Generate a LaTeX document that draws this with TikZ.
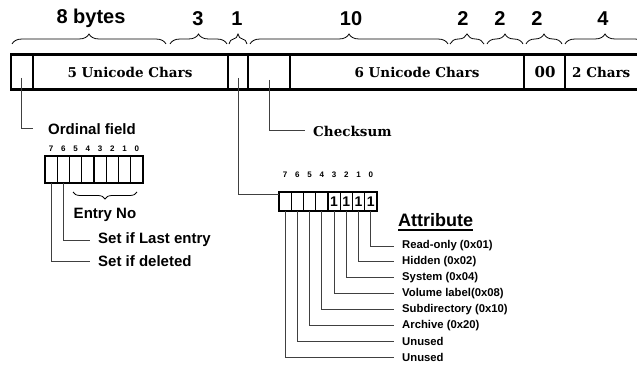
\documentclass[tikz,border=0pt]{standalone}
\usepackage{fontspec}
\setsansfont{Liberation Sans}
\newfontfamily\serifbf{DejaVu Serif}[UprightFont=* Bold]
\usetikzlibrary{decorations.pathreplacing,calc}
\begin{document}
\begin{tikzpicture}[x=1pt,y=-1pt,
  field/.style={draw, line width=2.2pt, minimum height=35pt, inner sep=0pt, outer sep=0pt, anchor=north west},
  serifbold/.style={font=\serifbf\fontsize{13.5}{16}\selectfont, inner sep=0pt},
  toplab/.style={font=\sffamily\bfseries\fontsize{20}{24}\selectfont, inner sep=0pt},
  brc/.style={decorate, decoration={brace, amplitude=10pt}, line width=0.8pt},
  brcdown/.style={decorate, decoration={brace, amplitude=7pt}, line width=0.8pt},
  conn/.style={draw=black!75, line width=1pt},
  lab/.style={font=\sffamily\bfseries\fontsize{15}{18}\selectfont, anchor=west, inner ysep=0pt, inner xsep=8pt},
  small/.style={font=\sffamily\bfseries\fontsize{11.3}{13}\selectfont, anchor=west, inner ysep=0pt, inner xsep=8pt},
  bitnum/.style={font=\sffamily\bfseries\fontsize{8}{9}\selectfont, inner sep=0pt},
  acell/.style={draw, line width=1.4pt, minimum width=12.25pt, minimum height=19pt, inner sep=0pt, outer sep=0pt, anchor=north west, font=\sffamily\bfseries\fontsize{14}{16}\selectfont},
  ocell/.style={draw, line width=1.4pt, minimum width=12.25pt, minimum height=27pt, inner sep=0pt, outer sep=0pt, anchor=north west}
]
\useasboundingbox (0,0) rectangle (637,366);

% main record fields
\node[field, minimum width=21.7pt] (f1) at (11,54.5) {};
\node[field, minimum width=195.3pt] (f2) at (32.7,54.5) {};
\node[field, minimum width=20pt] (f3) at (228,54.5) {};
\node[field, minimum width=42pt] (f4) at (248,54.5) {};
\node[field, minimum width=234pt] (f5) at (290,54.5) {};
\node[field, minimum width=41pt] (f6) at (524,54.5) {};
\node[field, minimum width=80pt] (f7) at (565,54.5) {};

\node[serifbold] (t2) at (130,72) {5 Unicode Chars};
\node[serifbold] (t5) at (417,72) {6 Unicode Chars};
\node[serifbold, font=\serifbf\fontsize{15}{18}\selectfont] (t6) at (545,72) {00};
\node[serifbold, anchor=west] (t7) at (572,72) {2 Chars};

% braces and byte counts
\draw[brc] (12,44) -- (166,44);
\draw[brc] (170,44) -- (227,44);
\draw[brc] (229,44) -- (247,44);
\draw[brc] (250,44) -- (448,44);
\draw[brc] (450,44) -- (484,44);
\draw[brc] (487,44) -- (523,44);
\draw[brc] (526,44) -- (562,44);
\draw[brc] (565,44) -- (645,44);

\node[toplab] (b1) at (91,18.5) {8 bytes};
\node[toplab] (b2) at (198,18.5) {3};
\node[toplab] (b3) at (237,18.5) {1};
\node[toplab] (b4) at (351,18.5) {10};
\node[toplab] (b5) at (463,18.5) {2};
\node[toplab] (b6) at (500,18.5) {2};
\node[toplab] (b7) at (537,18.5) {2};
\node[toplab] (b8) at (603,18.5) {4};

% ordinal field
\node[lab, inner xsep=15pt] (ordlabel) at (33,129) {Ordinal field};
\draw[conn] ($(f1.center)+(0,6)$) |- (ordlabel.west);
\foreach \i in {0,...,7} {
  \node[ocell] (o\i) at ({45+12.25*(7-\i)},156) {};
  \node[bitnum] at ([yshift=7pt]o\i.north) {\i};
}
\draw[brcdown] (137,192) -- (73,192);
\node[lab, anchor=center, inner xsep=0pt] (entry) at (105,215) {Entry No};
\node[lab] (lastentry) at (90,240) {Set if Last entry};
\node[lab] (deleted) at (90,261) {Set if deleted};
\draw[conn] (o6.south) |- (lastentry.west);
\draw[conn] (o7.south) |- (deleted.west);

% checksum
\node[lab, font=\serifbf\fontsize{13.5}{16}\selectfont] (checksum) at (305,131) {Checksum};
\draw[conn] ($(f4.center)+(0,8)$) |- (checksum.west);

% attribute byte
\foreach \i/\v in {7/,6/,5/,4/,3/1,2/1,1/1,0/1} {
  \node[acell] (a\i) at ({279+12.25*(7-\i)},192) {\v};
  \node[bitnum] at ([yshift=17pt]a\i.north) {\i};
}
\draw[conn] ($(f3.center)+(0,6)$) |- ([yshift=6.5pt]a7.west);

\node[font=\sffamily\bfseries\fontsize{18}{21}\selectfont, anchor=west, inner sep=0pt] (attr) at (398,220) {Attribute};
\draw[line width=1.6pt] ([yshift=-3pt]attr.south west) -- ([yshift=-3pt]attr.south east);

\foreach \k/\txt in {0/Read-only (0x01),1/Hidden (0x02),2/System (0x04),3/Volume label(0x08),4/Subdirectory (0x10),5/Archive (0x20),6/Unused,7/Unused} {
  \node[small] (r\k) at (394,{246+15.9*\k}) {\txt};
  \draw[conn] (a\k.south) |- (r\k.west);
}
\end{tikzpicture}
\end{document}
